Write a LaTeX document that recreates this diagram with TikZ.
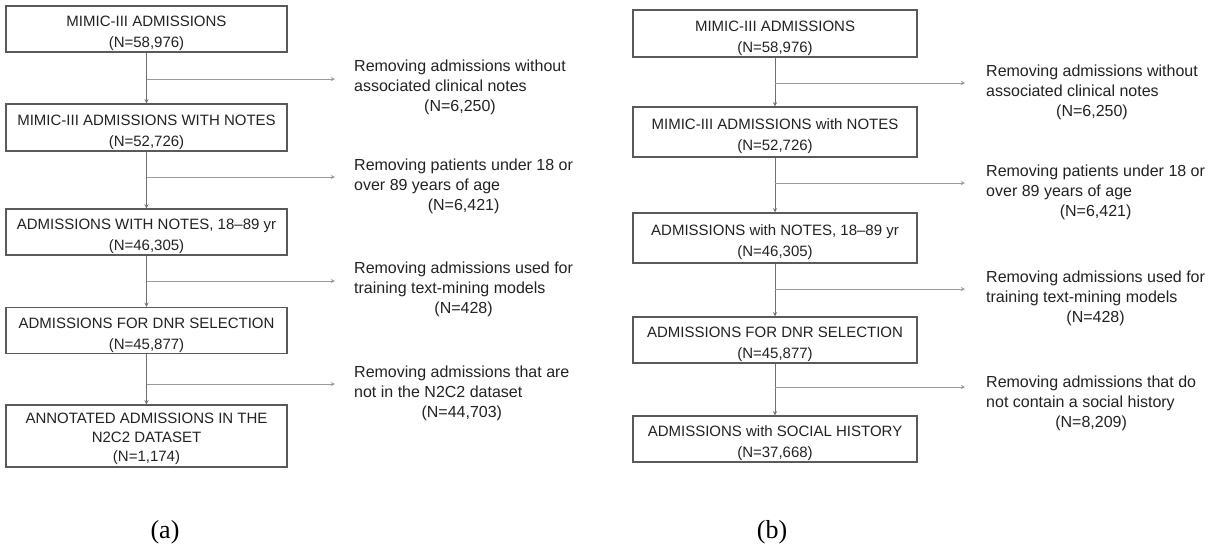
\documentclass[tikz,border=0pt]{standalone}
\usepackage{fontspec}
\setmainfont{Liberation Sans}
\newfontfamily\capfont{Liberation Serif}
\usetikzlibrary{positioning}
\tikzset{>=stealth}
\definecolor{boxgray}{HTML}{5A5A5A}
\definecolor{linegray}{HTML}{707070}
\definecolor{sidegray}{HTML}{999999}
\definecolor{txtgray}{HTML}{222222}
\newcommand{\rmnote}[3]{\begin{tabular}{@{}l@{}}#1\\#2\\\multicolumn{1}{@{}c@{}}{#3}\end{tabular}}

\begin{document}
\begin{tikzpicture}[x=1pt, y=-1pt,
    flowbox/.style={draw=boxgray, line width=1.3pt, minimum width=281pt, minimum height=46pt,
        align=center, inner sep=0pt, text=txtgray, font=\fontsize{15}{21}\selectfont,
        execute at begin node=\rule{0pt}{41pt}},
    note/.style={anchor=west, inner sep=0pt, text=txtgray, font=\fontsize{16}{20}\selectfont},
    downarrow/.style={->, draw=linegray, line width=0.9pt},
    sidearrow/.style={->, draw=sidegray, line width=0.9pt},
    subcap/.style={font=\capfont\fontsize{26}{30}\selectfont}]
    \useasboundingbox (0,0) rectangle (1217,550);

    % (a)
    \node[flowbox] (a1) at (146.5,29) {MIMIC-III ADMISSIONS\\(N=58,976)};
    \node[flowbox, minimum height=47pt] (a2) at (146.5,127.5) {MIMIC-III ADMISSIONS WITH NOTES\\(N=52,726)};
    \node[flowbox] (a3) at (146.5,232) {ADMISSIONS WITH NOTES, 18--89 yr\\(N=46,305)};
    \node[flowbox] (a4) at (146.5,330.5) {ADMISSIONS FOR DNR SELECTION\\(N=45,877)};
    \node[flowbox, minimum height=62pt, font=\fontsize{15}{19}\selectfont,
        execute at begin node=\rule{0pt}{54pt}] (a5) at (146.5,436) {ANNOTATED ADMISSIONS IN THE\\N2C2 DATASET\\(N=1,174)};
    \draw[downarrow] (a1) -- (a2);
    \draw[downarrow] (a2) -- (a3);
    \draw[downarrow] (a3) -- (a4);
    \draw[downarrow] (a4) -- (a5);

    \coordinate (ja1) at (146.5,79);  \coordinate (ta1) at (335,79);
    \coordinate (ja2) at (146.5,177); \coordinate (ta2) at (335,177);
    \coordinate (ja3) at (146.5,281); \coordinate (ta3) at (335,281);
    \coordinate (ja4) at (146.5,384); \coordinate (ta4) at (335,384);
    \draw[sidearrow] (ja1) -- (ta1);
    \draw[sidearrow] (ja2) -- (ta2);
    \draw[sidearrow] (ja3) -- (ta3);
    \draw[sidearrow] (ja4) -- (ta4);
    \node[note] (na1) at (354,87) {\rmnote{Removing admissions without}{associated clinical notes}{(N=6,250)}};
    \node[note] (na2) at (354,186) {\rmnote{Removing patients under 18 or}{over 89 years of age}{(N=6,421)}};
    \node[note] (na3) at (354,289) {\rmnote{Removing admissions used for}{training text-mining models}{(N=428)}};
    \node[note] (na4) at (354,393) {\rmnote{Removing admissions that are}{not in the N2C2 dataset}{(N=44,703)}};
    \node[subcap] (capa) at (165,532) {(a)};

    % (b)
    \node[flowbox, minimum width=284pt, minimum height=47pt] (b1) at (775,33.5) {MIMIC-III ADMISSIONS\\(N=58,976)};
    \node[flowbox, minimum width=284pt, minimum height=50pt] (b2) at (775,132) {MIMIC-III ADMISSIONS with NOTES\\(N=52,726)};
    \node[flowbox, minimum width=284pt, minimum height=50pt] (b3) at (775,238) {ADMISSIONS with NOTES, 18--89 yr\\(N=46,305)};
    \node[flowbox, minimum width=284pt] (b4) at (775,340) {ADMISSIONS FOR DNR SELECTION\\(N=45,877)};
    \node[flowbox, minimum width=284pt] (b5) at (775,439) {ADMISSIONS with SOCIAL HISTORY\\(N=37,668)};
    \draw[downarrow] (b1) -- (b2);
    \draw[downarrow] (b2) -- (b3);
    \draw[downarrow] (b3) -- (b4);
    \draw[downarrow] (b4) -- (b5);

    \coordinate (jb1) at (775,83);  \coordinate (tb1) at (965,83);
    \coordinate (jb2) at (775,183); \coordinate (tb2) at (965,183);
    \coordinate (jb3) at (775,289); \coordinate (tb3) at (965,289);
    \coordinate (jb4) at (775,387); \coordinate (tb4) at (965,387);
    \draw[sidearrow] (jb1) -- (tb1);
    \draw[sidearrow] (jb2) -- (tb2);
    \draw[sidearrow] (jb3) -- (tb3);
    \draw[sidearrow] (jb4) -- (tb4);
    \node[note] (nb1) at (986,92) {\rmnote{Removing admissions without}{associated clinical notes}{(N=6,250)}};
    \node[note] (nb2) at (986,192) {\rmnote{Removing patients under 18 or}{over 89 years of age}{(N=6,421)}};
    \node[note] (nb3) at (986,298) {\rmnote{Removing admissions used for}{training text-mining models}{(N=428)}};
    \node[note] (nb4) at (986,403) {\rmnote{Removing admissions that do}{not contain a social history}{(N=8,209)}};
    \node[subcap] (capb) at (772,532) {(b)};
\end{tikzpicture}
\end{document}
